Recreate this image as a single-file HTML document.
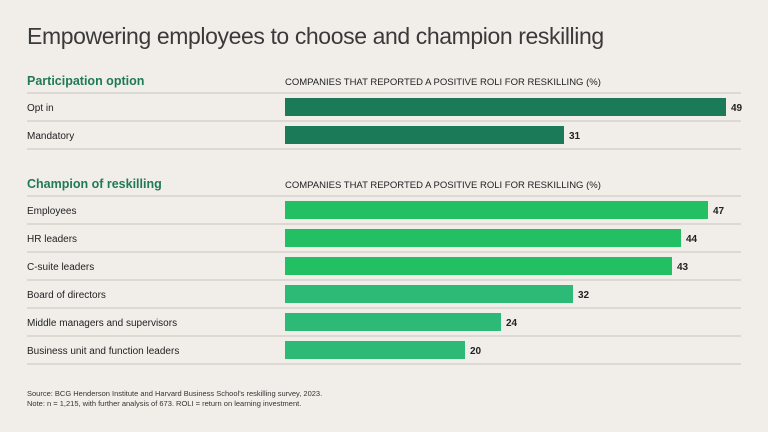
<!DOCTYPE html>
<html><head><meta charset="utf-8"><style>
body{margin:0;width:768px;height:432px;background:#f1eeea;font-family:"Liberation Sans",sans-serif;overflow:hidden;position:relative}
.t{position:absolute;white-space:nowrap}
</style></head><body>
<div class="t" style="left:27px;top:23px;font-size:23px;color:#3a3a3a;letter-spacing:-0.4px">Empowering employees to choose and champion reskilling</div>
<svg id="c" width="768" height="432" style="position:absolute;left:0;top:0"></svg>
<div class="t" style="left:27px;top:389px;font-size:7.5px;color:#333;line-height:10px">Source: BCG Henderson Institute and Harvard Business School's reskilling survey, 2023.<br>Note: n = 1,215, with further analysis of 673. ROLI = return on learning investment.</div>
<script>
const cats1=["Opt in","Mandatory"];
const vals1=[49,31];
const cats2=["Employees","HR leaders","C-suite leaders","Board of directors","Middle managers and supervisors","Business unit and function leaders"];
const vals2=[47,44,43,32,24,20];
const colors2=["#22c062","#22c062","#22c062","#2dba76","#2dba76","#2dba76"];
const NS="http://www.w3.org/2000/svg";
const svg=document.getElementById('c');
const x0=285,scale=441/49;
const xS=v=>x0+v*scale;
function el(t,a,p){const e=document.createElementNS(NS,t);for(const k in a)e.setAttribute(k,a[k]);(p||svg).appendChild(e);return e;}
function line(y){const l=el('line',{x1:27,x2:741,y1:y,y2:y,stroke:'#cfcbc6','stroke-width':1.2});

}
function section(title,headerY,topLine,cats,vals,colors,nm){
 const h=el('text',{x:27,y:headerY,'font-size':12.5,'font-weight':'bold',fill:'#1f7a55'});h.textContent=title;
 
 
 const a=el('text',{x:285,y:headerY,'font-size':9.5,fill:'#222'});a.textContent="COMPANIES THAT REPORTED A POSITIVE ROLI FOR RESKILLING (%)";
 
 
 line(topLine);
 cats.forEach((c,i)=>{
  const y=topLine+i*28;
  const lb=el('text',{x:27,y:y+18,'font-size':10,fill:'#222'});lb.textContent=c;
  
  
  const r=el('rect',{x:x0,y:y+5,width:xS(vals[i])-x0,height:18,fill:colors[i]});
  
  
  const v=el('text',{x:xS(vals[i])+5,y:y+18,'font-size':10,'font-weight':'bold',fill:'#222'});v.textContent=vals[i];
  
  
  line(y+28);
 });
}
section("Participation option",85,93,cats1,vals1,["#1b7a57","#1b7a57"],'participation');
section("Champion of reskilling",188,196,cats2,vals2,colors2,'champion');
</script>
</body></html>
